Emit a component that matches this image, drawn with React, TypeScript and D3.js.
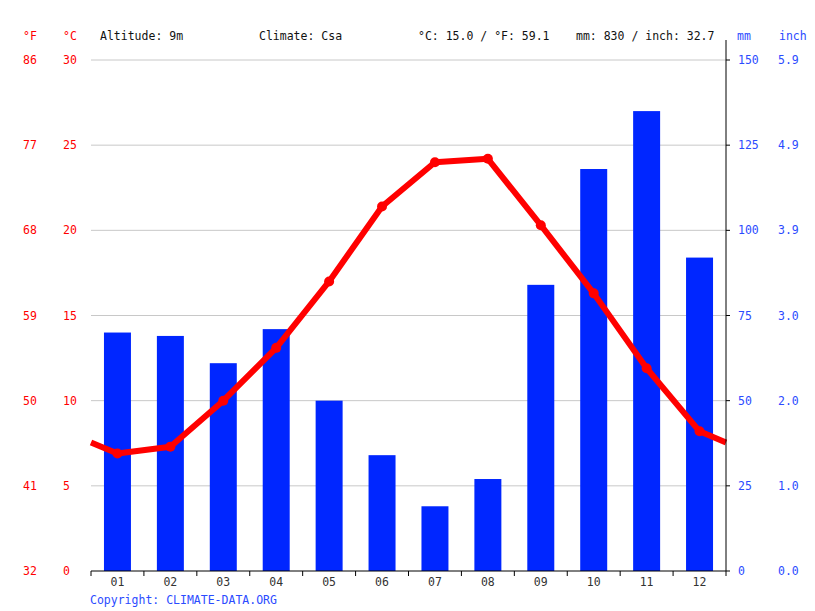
import * as d3 from 'd3';

const months = ['01', '02', '03', '04', '05', '06', '07', '08', '09', '10', '11', '12'];
const precipitation = [70, 69, 61, 71, 50, 34, 19, 27, 84, 118, 135, 92];
const temperature = [6.9, 7.3, 10.0, 13.1, 17.0, 21.4, 24.0, 24.2, 20.3, 16.3, 11.9, 8.2];
const celsiusTicks = [0, 5, 10, 15, 20, 25, 30];
const fahrenheitTicks = ['32', '41', '50', '59', '68', '77', '86'];
const mmTicks = [0, 25, 50, 75, 100, 125, 150];
const inchTicks = ['0.0', '1.0', '2.0', '3.0', '3.9', '4.9', '5.9'];

const width = 815;
const height = 611;
const left = 91;
const right = 726;
const top = 60;
const bottom = 571;

const red = '#ff0000';
const blue = '#0026ff';
const blueText = '#2b4bff';
const font = '"DejaVu Sans Mono", monospace';

const App = (): React.ReactElement => {
  const x = d3.scaleBand().domain(months).range([left, right]).paddingInner(0.49).paddingOuter(0.245);
  const step = x.step();
  const yTemp = d3.scaleLinear().domain([0, 30]).range([bottom, top]);
  const yRain = d3.scaleLinear().domain([0, 150]).range([bottom, top]);

  const center = (m: string) => (x(m) ?? 0) + x.bandwidth() / 2;
  const edgeValue = (temperature[0] + temperature[11]) / 2;
  const linePoints: [number, number][] = [
    [left, yTemp(edgeValue)],
    ...months.map((m, i) => [center(m), yTemp(temperature[i])] as [number, number]),
    [right, yTemp(edgeValue)],
  ];
  const line = d3.line();

  const boundaries = d3.range(months.length + 1).map((i) => left + i * step);

  return (
    <svg
      width={width}
      height={height}
      style={{ position: 'absolute', left: 0, top: 0, background: '#fff' }}
      fontFamily={font}
      fontSize={11.5}
    >
      {/* header */}
      <text x={23} y={40} fill={red}>°F</text>
      <text x={63} y={40} fill={red}>°C</text>
      <text x={100} y={40} fill="#111">Altitude: 9m</text>
      <text x={259} y={40} fill="#111">Climate: Csa</text>
      <text x={418} y={40} fill="#111">°C: 15.0 / °F: 59.1</text>
      <text x={576} y={40} fill="#111">mm: 830 / inch: 32.7</text>
      <text x={737} y={40} fill={blueText}>mm</text>
      <text x={779} y={40} fill={blueText}>inch</text>

      {/* grid + left labels */}
      {celsiusTicks.map((t, i) => (
        <g key={t}>
          {t > 0 && (
            <line x1={left} x2={right} y1={yTemp(t)} y2={yTemp(t)} stroke="#c8c8c8" strokeWidth={1} />
          )}
          <text x={23} y={yTemp(t)} dy="0.35em" fill={red}>{fahrenheitTicks[i]}</text>
          <text x={63} y={yTemp(t)} dy="0.35em" fill={red}>{t}</text>
        </g>
      ))}

      {/* bars */}
      {months.map((m, i) => (
        <rect
          key={m}
          x={x(m)}
          y={yRain(precipitation[i])}
          width={x.bandwidth()}
          height={bottom - yRain(precipitation[i])}
          fill={blue}
        />
      ))}

      {/* temperature line */}
      <path d={line(linePoints) ?? ''} fill="none" stroke={red} strokeWidth={6} strokeLinejoin="round" />
      {months.map((m, i) => (
        <circle key={m} cx={center(m)} cy={yTemp(temperature[i])} r={5} fill={red} />
      ))}

      {/* right axis */}
      <line x1={right} x2={right} y1={40} y2={bottom} stroke="#000" strokeWidth={1} />
      {mmTicks.map((t, i) => (
        <g key={t}>
          <line x1={right} x2={right + 4} y1={yRain(t)} y2={yRain(t)} stroke="#000" />
          <text x={738} y={yRain(t)} dy="0.35em" fill={blueText}>{t}</text>
          <text x={778} y={yRain(t)} dy="0.35em" fill={blueText}>{inchTicks[i]}</text>
        </g>
      ))}

      {/* x axis */}
      <line x1={left} x2={right} y1={bottom} y2={bottom} stroke="#000" strokeWidth={1} />
      {boundaries.map((b) => (
        <line key={b} x1={b} x2={b} y1={bottom} y2={bottom + 5} stroke="#000" />
      ))}
      {months.map((m) => (
        <text key={m} x={center(m)} y={586} textAnchor="middle" fill="#333">{m}</text>
      ))}

      <text x={90} y={604} fill={blueText}>Copyright: CLIMATE-DATA.ORG</text>
    </svg>
  );
};

export default App;
